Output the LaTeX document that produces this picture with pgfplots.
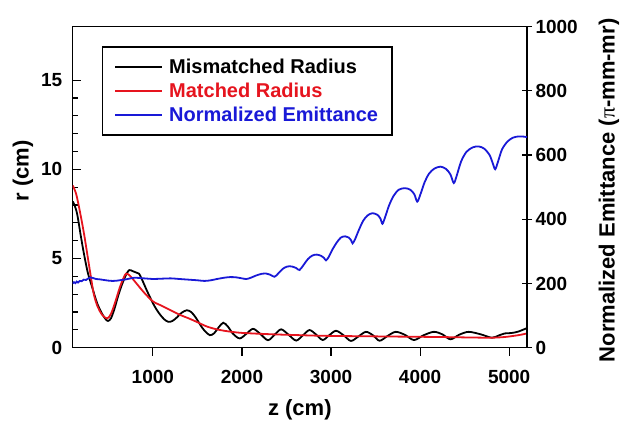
\documentclass[border=0pt]{standalone}
\usepackage{fontspec}
\setmainfont{Liberation Sans}
\newfontfamily\pifont{Liberation Serif}
\usepackage{pgfplots}
\pgfplotsset{compat=1.18}
\definecolor{myred}{RGB}{230,20,30}
\definecolor{myblue}{RGB}{25,25,215}
\begin{document}
\begin{tikzpicture}
\path[use as bounding box] (-72.7pt,-75.3pt) rectangle (548.3pt,347.7pt);
\begin{axis}[
  scale only axis, width=454.3pt, height=321pt,
  xmin=100, xmax=5200, ymin=0, ymax=18,
  xtick={1000,2000,3000,4000,5000}, ytick={0,5,10,15},
  minor y tick num=4,
  xtick pos=bottom, ytick pos=left,
  xtick align=outside, ytick align=inside,
  major tick length=8pt, minor tick length=5pt,
  tick style={line width=1.2pt, black},
  axis line style={line width=1.5pt},
  tick label style={font=\fontsize{19}{19}\selectfont\bfseries},
  xticklabel style={yshift=-11pt},
  yticklabel style={xshift=-7pt},
  /pgf/number format/assume math mode=true,
  /pgf/number format/set thousands separator={},
  xlabel={z (cm)}, ylabel={r (cm)},
  label style={font=\fontsize{22}{22}\selectfont\bfseries},
  xlabel style={at={(axis description cs:0.5,-0.193)},anchor=center},
  ylabel style={at={(axis description cs:-0.1094,0.551)},anchor=center},
]
\addplot[black, line width=1.8pt, smooth, tension=0.5] coordinates {
(100,8.2) (120,8.0) (150,7.5) (190,6.3) (225,5.3) (270,4.2) (318,3.4) (374,2.5) (430,1.9) (470,1.6) (497,1.5) (530,1.65) (570,2.2) (610,2.9) (650,3.5) (700,4.1) (735,4.35) (770,4.3) (810,4.22) (845,4.15) (880,3.8) (933,3.2) (1000,2.5) (1040,2.15) (1082,1.85) (1130,1.58) (1175,1.45) (1220,1.5) (1270,1.7) (1320,1.95) (1380,2.1) (1430,2.0) (1480,1.7) (1530,1.3) (1580,0.95) (1640,0.7) (1690,0.82) (1740,1.15) (1790,1.4) (1840,1.2) (1900,0.78) (1975,0.52) (2050,0.78) (2124,1.06) (2200,0.8) (2292,0.42) (2370,0.75) (2441,1.03) (2525,0.72) (2609,0.4) (2690,0.72) (2758,0.99) (2830,0.75) (2906,0.43) (2980,0.7) (3056,0.95) (3140,0.7) (3223,0.38) (3305,0.62) (3391,0.89) (3470,0.7) (3545,0.39) (3635,0.66) (3726,0.89) (3830,0.72) (3931,0.43) (4040,0.7) (4154,0.89) (4250,0.75) (4341,0.47) (4440,0.73) (4545,0.89) (4680,0.75) (4806,0.56) (4880,0.68) (4950,0.8) (5020,0.82) (5100,0.9) (5200,1.1)
};
\addplot[myred, line width=1.8pt, smooth, tension=0.5] coordinates {
(100,9.1) (140,8.6) (190,7.4) (230,6.3) (262,5.3) (300,4.1) (337,3.0) (380,2.3) (430,1.85) (486,1.64) (530,1.9) (580,2.6) (630,3.4) (670,3.9) (698,4.15) (740,4.05) (800,3.7) (900,3.1) (1000,2.6) (1100,2.35) (1200,2.1) (1300,1.85) (1400,1.65) (1500,1.43) (1600,1.2) (1700,1.05) (1800,0.95) (1900,0.88) (2000,0.83) (2200,0.78) (2400,0.74) (2600,0.71) (2800,0.68) (3000,0.66) (3400,0.64) (3800,0.62) (4200,0.6) (4600,0.57) (4800,0.56) (4950,0.6) (5100,0.7) (5200,0.8)
};
\end{axis}
\begin{axis}[
  scale only axis, width=454.3pt, height=321pt,
  xmin=100, xmax=5200, ymin=0, ymax=1000,
  axis y line*=right, axis x line=none,
  ytick={0,200,400,600,800,1000},
  ytick align=center, major tick length=10pt,
  tick style={line width=1.2pt, black},
  axis line style={line width=1.5pt},
  tick label style={font=\fontsize{19}{19}\selectfont\bfseries},
  /pgf/number format/assume math mode=true,
  /pgf/number format/set thousands separator={},
  ylabel={Normalized Emittance ({\pifont\mdseries π}-mm-mr)},
  label style={font=\fontsize{22}{22}\selectfont\bfseries},
  ylabel style={at={(axis description cs:1.1805,0.49)},anchor=center},
  legend style={at={(0.0637,0.9386)}, anchor=north west, draw=black, line width=1.5pt,
    font=\fontsize{20}{20}\selectfont\bfseries, row sep=4pt, inner xsep=12pt, inner ysep=10pt},
  legend cell align=left,
  legend image code/.code={\draw[#1] (0pt,0pt) -- (47pt,0pt); \path (51pt,0pt);},
]
\addlegendimage{black, line width=1.5pt}
\addlegendentry{Mismatched Radius}
\addlegendimage{myred, line width=1.5pt}
\addlegendentry[text=myred]{Matched Radius}
\addplot[myblue, line width=1.8pt, smooth, tension=0.5] coordinates {
(100,200) (115,204) (130,201) (145,206) (160,203) (180,208) (200,207) (225,212) (250,211) (275,216) (300,219) (330,217) (360,214) (400,213) (450,211) (500,209) (550,208) (600,209) (650,211) (700,213) (750,216) (800,218) (850,217) (900,216) (950,215) (1000,214) (1100,215) (1200,216) (1300,214) (1400,212) (1500,210) (1580,208) (1650,210) (1720,214) (1800,218) (1870,220) (1940,219) (2000,216) (2050,214) (2100,218) (2160,225) (2220,230) (2270,231) (2320,227) (2366,221) (2410,232) (2460,246) (2510,253) (2560,253) (2610,248) (2646,242) (2690,257) (2740,276) (2790,287) (2840,290) (2890,286) (2920,280) (2944,272) (2975,283) (3010,303) (3060,326) (3110,343) (3160,347) (3200,343) (3225,335) (3242,325) (3270,338) (3310,365) (3360,395) (3410,412) (3465,419) (3520,414) (3555,402) (3577,386) (3605,405) (3650,442) (3700,472) (3760,492) (3830,497) (3890,492) (3935,478) (3968,455) (4000,475) (4050,515) (4100,542) (4160,558) (4229,564) (4290,557) (4340,540) (4378,513) (4410,535) (4460,580) (4520,610) (4590,624) (4657,627) (4720,620) (4780,600) (4815,575) (4843,556) (4875,580) (4920,618) (4980,642) (5040,654) (5100,658) (5150,658) (5200,656)
};
\addlegendentry[text=myblue]{Normalized Emittance}
\end{axis}
\end{tikzpicture}
\end{document}
